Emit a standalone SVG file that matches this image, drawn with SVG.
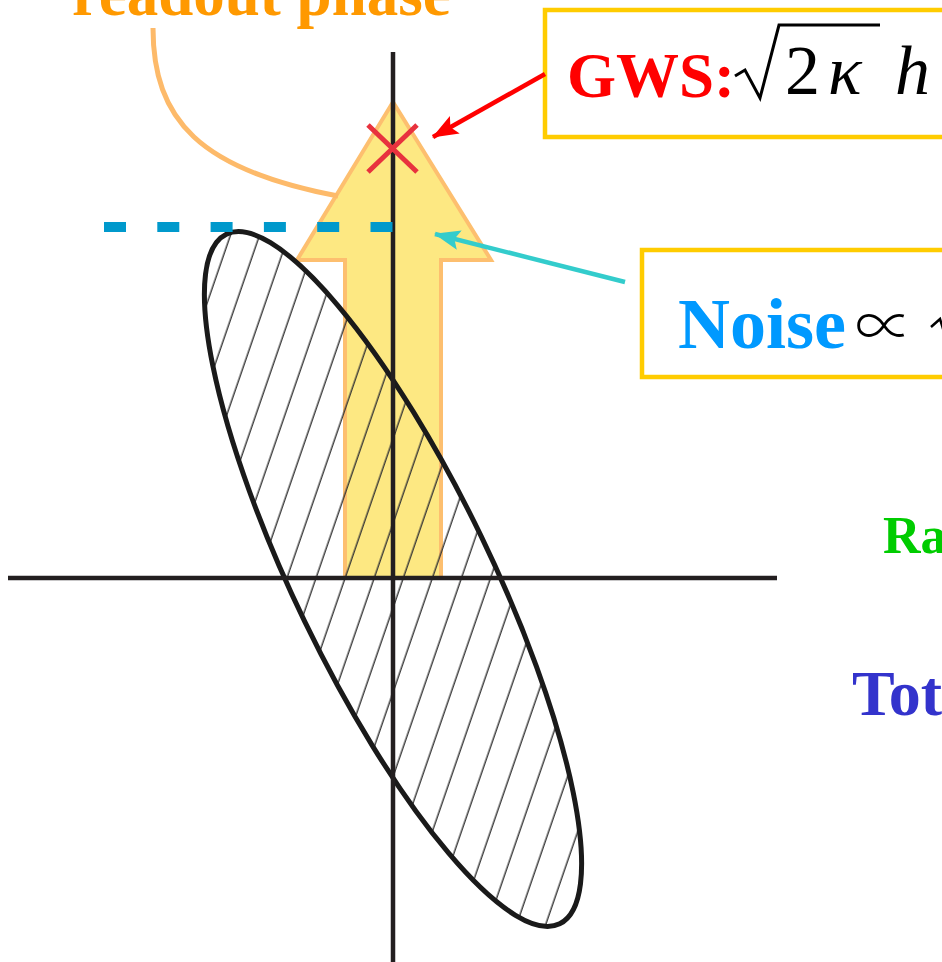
<svg xmlns="http://www.w3.org/2000/svg" width="942" height="962" viewBox="0 0 942 962">
<style>
.axis{stroke:#231F20;stroke-width:4.5;fill:none}
.box{fill:#fff;stroke:#FFCC00;stroke-width:4.5}
.t{font-family:"Liberation Serif","DejaVu Serif",serif;font-weight:bold}
.m{font-family:"Liberation Serif","DejaVu Serif",serif;fill:#000}
</style>
<defs>
<pattern id="hatch" patternUnits="userSpaceOnUse" width="27.5" height="20" patternTransform="rotate(-45.2)">
<line x1="13" y1="-2" x2="13" y2="22" stroke="#333" stroke-width="1.4"/>
</pattern>
<marker id="ahRed" markerWidth="26" markerHeight="20" refX="25" refY="10" orient="auto" markerUnits="userSpaceOnUse" viewBox="0 0 26 20">
<path d="M0,0 L26,10 L0,20 L5,10 Z" fill="#FF0000"/>
</marker>
<marker id="ahCyan" markerWidth="26" markerHeight="20" refX="25" refY="10" orient="auto" markerUnits="userSpaceOnUse" viewBox="0 0 26 20">
<path d="M0,0 L26,10 L0,20 L5,10 Z" fill="#33CCCC"/>
</marker>
</defs>
<rect width="942" height="962" fill="#fff"/>

<g id="readout-arrow">
<path d="M393,102 L491,260 L441,260 L441,578 L345,578 L345,260 L297,260 Z" fill="#FDE882" stroke="#FDBF6F" stroke-width="4"/>
</g>

<g id="ellipse">
<ellipse cx="393" cy="579" rx="383" ry="98" transform="rotate(64.2 393 579)" fill="url(#hatch)"/>
<ellipse cx="393" cy="579" rx="383" ry="98" transform="rotate(64.2 393 579)" fill="none" stroke="#1a1a1a" stroke-width="5"/>
</g>

<g id="axes">
<line class="axis" x1="393" y1="52" x2="393" y2="962"/>
<line class="axis" x1="8" y1="578" x2="777" y2="578"/>
</g>

<g id="noise-level">
<line x1="104" y1="227" x2="393" y2="227" stroke="#0099CC" stroke-width="10" stroke-dasharray="22 31.3"/>
</g>

<g id="gws-mark">
<path d="M368,125 L417,172 M417,125 L368,172" stroke="#E8323E" stroke-width="5" fill="none"/>
</g>

<g id="readout-label">
<text class="t" x="72" y="15" font-size="63" fill="#FF9900">readout phase</text>
</g>

<g id="gws-box">
<rect class="box" x="545" y="10" width="420" height="127"/>
<text class="t" x="567" y="97" font-size="63" fill="#FF0000">GWS:</text>
<path d="M735,76 L745,70 L760,98 L779,25 L880,25" fill="none" stroke="#000" stroke-width="3"/>
<text class="m" x="785" y="94" font-size="70">2</text>
<text class="m" x="828" y="94" font-size="70" font-style="italic">κ</text>
<text class="m" x="895" y="94" font-size="70" font-style="italic">h</text>
</g>

<g id="noise-box">
<rect class="box" x="642" y="250" width="330" height="127"/>
<text class="t" x="678" y="348" font-size="72" fill="#0099FF">Noise</text>
<text x="855" y="347" font-size="58" font-weight="300" font-family="'Noto Sans CJK JP','DejaVu Serif',serif" fill="#000">∝</text>
<path d="M931,327 L940,319 L948,345" fill="none" stroke="#000" stroke-width="2.5"/>
</g>

<g id="labels">
<text class="t" x="883" y="553" font-size="52" fill="#00CC00">Ra</text>
<text class="t" x="852" y="715" font-size="64" fill="#3333CC">Tot</text>
</g>

<g id="connectors">
<path d="M153,28 C153,120 200,170 338,196" fill="none" stroke="#FDBA6A" stroke-width="5"/>
<line x1="545" y1="74" x2="433" y2="137" stroke="#FF0000" stroke-width="4.5" marker-end="url(#ahRed)"/>
<line x1="625" y1="282" x2="435" y2="234" stroke="#33CCCC" stroke-width="4.5" marker-end="url(#ahCyan)"/>
</g>
</svg>
